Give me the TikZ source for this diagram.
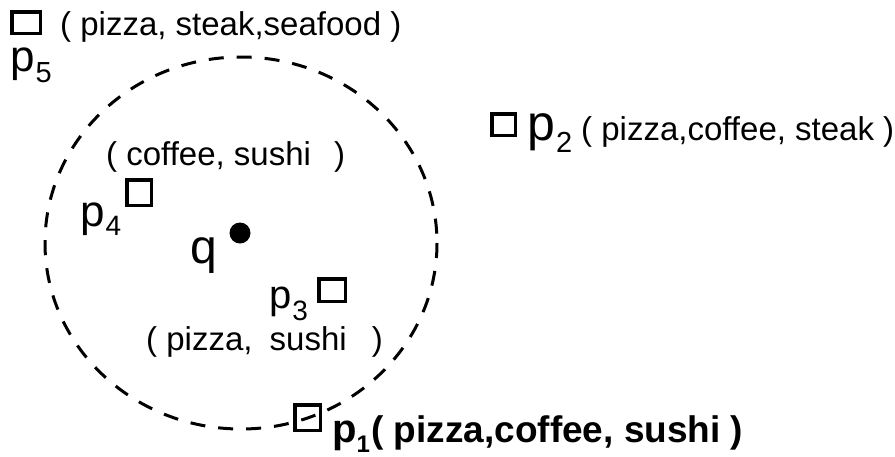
\documentclass[tikz,border=0pt]{standalone}
\usepackage{fontspec}
\setmainfont{Liberation Sans}
\newcommand\mypl[5][1pt]{{\fontsize{#2}{#2}\selectfont p}\hspace{#1}\raisebox{-#4pt}{\fontsize{#3}{#3}\selectfont #5}}
\begin{document}
\begin{tikzpicture}[x=1pt,y=-1pt,
  sq/.style={draw, line width=3.5pt, rectangle, inner sep=0pt},
  lbl/.style={anchor=base west, inner sep=0pt, font=\fontsize{33}{33}\selectfont},
  pl/.style={anchor=base west, inner sep=0pt},
  dot/.style={circle, fill, inner sep=0pt, minimum size=21pt}
]
\useasboundingbox (0,0) rectangle (895,456);
\draw[line width=3pt, dash pattern=on 15pt off 13pt] (241,243) ellipse [x radius=196, y radius=186];

% p5
\node[sq, minimum width=28.5pt, minimum height=21.5pt] (s5) at (26,22.5) {};
\node[pl] (l5) at (10,71) {\mypl{44}{29}{11}{5}};
\node[lbl] (t5) at (60,35) {( pizza, steak,seafood )};

% p2
\node[sq, minimum width=23.5pt, minimum height=21.5pt] (s2) at (503.5,124.5) {};
\node[pl] (l2) at (527,140) {\mypl{50}{29}{12}{2}};
\node[lbl] (t2) at (581,140) {( pizza,coffee, steak )};

% p4
\node[lbl] (t4) at (106,165) {( coffee, sushi\hspace{14pt} )};
\node[sq, minimum width=24.5pt, minimum height=25.5pt] (s4) at (139,192.5) {};
\node[pl] (l4) at (80,226) {\mypl{44}{28}{9}{4}};

% q
\node[dot] (qdot) at (240,233) {};
\node[pl, font=\fontsize{48}{48}\selectfont] (q) at (190,263) {q};

% p3
\node[sq, minimum width=26.5pt, minimum height=22.5pt] (s3) at (332,290) {};
\node[pl] (l3) at (269,308) {\mypl{40}{28}{12}{3}};
\node[lbl] (t3) at (146,350) {( pizza,\hspace{8pt} sushi\hspace{16pt} )};

% p1
\node[sq, minimum width=25.5pt, minimum height=25.5pt] (s1) at (307.5,417.5) {};
\node[pl, font=\bfseries] (l1) at (332,442) {\mypl[0pt]{40}{24}{10}{1}};
\node[lbl, font=\fontsize{37}{37}\selectfont\bfseries] (t1) at (371,442) {( pizza,coffee, sushi )};
\end{tikzpicture}
\end{document}
